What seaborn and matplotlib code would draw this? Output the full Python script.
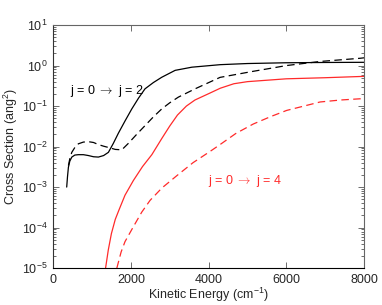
import numpy as np
import pandas as pd
import matplotlib
matplotlib.use("Agg")
import matplotlib.pyplot as plt
import seaborn as sns

# values (energy in cm^-1, cross section in ang^2)
e_j2 = [350, 370, 394, 430, 481, 560, 651, 780, 908, 1040, 1165, 1300, 1423, 1550,
        1680, 1850, 2025, 2200, 2365, 2580, 2795, 3140, 3570, 4300, 5000, 6000, 7000, 8000]
s_j2 = [1.0e-3, 1.78e-3, 3.09e-3, 4.37e-3, 5.5e-3, 6.17e-3, 6.3e-3, 6.3e-3, 6.0e-3,
        5.6e-3, 5.5e-3, 6.0e-3, 7.2e-3, 1.2e-2, 2.14e-2, 4.27e-2, 8.5e-2, 0.158, 0.266,
        0.38, 0.513, 0.76, 0.91, 1.05, 1.12, 1.17, 1.19, 1.20]

e_j2_dash = [394, 430, 481, 560, 651, 780, 908, 1040, 1165, 1300, 1423, 1600, 1767,
             1937, 2150, 2367, 2580, 2796, 3000, 3223, 3653, 4296, 5150, 6010, 6870, 7900, 8000]
s_j2_dash = [3.4e-3, 5.0e-3, 7.2e-3, 9.5e-3, 1.17e-2, 1.29e-2, 1.32e-2, 1.26e-2, 1.12e-2,
             1.02e-2, 9.5e-3, 8.5e-3, 8.3e-3, 1.2e-2, 2.0e-2, 3.3e-2, 5.4e-2, 8.5e-2,
             0.12, 0.166, 0.266, 0.51, 0.72, 1.0, 1.26, 1.51, 1.55]

e_j4 = [1350, 1420, 1500, 1600, 1700, 1850, 2065, 2300, 2540, 2800, 3000, 3200, 3430,
        3650, 4040, 4300, 4650, 5000, 6000, 7000, 8000]
s_j4 = [1.0e-5, 2.8e-5, 7.1e-5, 1.6e-4, 2.8e-4, 6.3e-4, 1.45e-3, 3.2e-3, 6.3e-3,
        1.6e-2, 3.2e-2, 6.0e-2, 0.1, 0.141, 0.21, 0.275, 0.355, 0.40, 0.47, 0.50, 0.54]

e_j4_dash = [1640, 1750, 1850, 2065, 2280, 2495, 2800, 3180, 3600, 4040, 4296, 4700,
             5150, 5600, 6010, 6870, 7400, 7900, 8000]
s_j4_dash = [1.0e-5, 2.5e-5, 4.5e-5, 1.05e-4, 2.4e-4, 4.7e-4, 9.5e-4, 1.9e-3, 4.0e-3,
             7.6e-3, 1.12e-2, 2.1e-2, 3.6e-2, 5.5e-2, 7.8e-2, 0.126, 0.141, 0.151, 0.155]

x_ticks = [0, 2000, 4000, 6000, 8000]
y_ticks = [1e-5, 1e-4, 1e-3, 1e-2, 1e-1, 1e0, 1e1]

sns.set_style("ticks")
plt.rcParams['font.family'] = ['Liberation Sans', 'DejaVu Sans']
plt.rcParams['mathtext.fontset'] = 'custom'
plt.rcParams['mathtext.rm'] = 'Liberation Sans'
plt.rcParams['mathtext.it'] = 'Liberation Sans:italic'
plt.rcParams['mathtext.bf'] = 'Liberation Sans:bold'

fig = plt.figure(figsize=(3.82, 3.05), dpi=100)
ax = fig.add_axes([0.139, 0.121, 0.814, 0.797])

red = '#ff2a2a'
sns.lineplot(x=e_j2, y=s_j2, color='black', lw=0.9, ax=ax)
sns.lineplot(x=e_j2_dash, y=s_j2_dash, color='black', lw=0.9, ax=ax,
             linestyle=(0, (6, 3.5)))
sns.lineplot(x=e_j4, y=s_j4, color=red, lw=0.9, ax=ax)
sns.lineplot(x=e_j4_dash, y=s_j4_dash, color=red, lw=0.9, ax=ax,
             linestyle=(0, (6, 3.5)))

ax.set_yscale('log')
ax.set_xlim(0, 8000)
ax.set_ylim(1e-5, 1e1)
ax.set_xticks(x_ticks)
ax.set_xticklabels([str(t) for t in x_ticks])
ax.set_yticks(y_ticks)

ax.tick_params(which='both', direction='in', top=True, right=True, labelsize=9,
               color='#555555', width=0.6, pad=4)
ax.tick_params(which='major', length=4)
ax.tick_params(which='minor', length=2)
ax.tick_params(axis='x', which='minor', bottom=False, top=False)
for s in ax.spines.values():
    s.set_linewidth(0.8)
    s.set_color('#666666')
ax.spines['bottom'].set_color('black')
ax.spines['left'].set_color('#333333')

ax.set_xlabel('Kinetic Energy (cm$^{-1}$)', fontsize=9, labelpad=0)
ax.set_ylabel('Cross Section (ang$^{2}$)', fontsize=9, labelpad=1)

ax.text(440, 0.24, 'j = 0 $\\rightarrow$ j = 2', color='black', fontsize=9,
        va='center', math_fontfamily='cm')
ax.text(3990, 1.45e-3, 'j = 0 $\\rightarrow$ j = 4', color=red, fontsize=9,
        va='center', math_fontfamily='cm')

fig.savefig('out.png', dpi=100)
